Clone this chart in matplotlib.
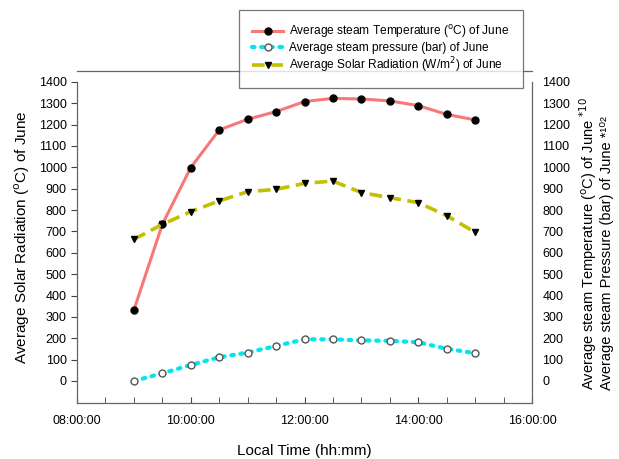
import matplotlib
matplotlib.use('Agg')

import matplotlib.pyplot as plt
import matplotlib.dates as mdates
import pandas as pd

plt.rcParams['font.family'] = ['Liberation Sans', 'DejaVu Sans']

# horas de medição (junho)
horas = ['09:00', '09:30', '10:00', '10:30', '11:00', '11:30', '12:00',
         '12:30', '13:00', '13:30', '14:00', '14:30', '15:00']
temperatura = [332, 733, 999, 1175, 1225, 1261, 1308, 1323, 1320, 1311, 1289, 1248, 1222]
pressao = [0, 36, 75, 111, 133, 164, 195, 195, 190, 188, 181, 151, 130]
radiacao = [663, 733, 793, 843, 886, 897, 925, 936, 882, 858, 835, 774, 696]

yticks = list(range(0, 1500, 100))

tempo = pd.to_datetime(['2000-06-01 ' + h for h in horas])
x_ini = pd.Timestamp('2000-06-01 08:00')
x_fim = pd.Timestamp('2000-06-01 16:00')

fig = plt.figure(figsize=(6.19, 4.59), dpi=100)
ax = fig.add_axes([77 / 619, 1 - 403 / 459, (532 - 77) / 619, (403 - 71) / 459])

l1, = ax.plot(tempo, temperatura, color='#f87878', lw=2.2, marker='o', ms=5,
              mfc='black', mec='black', zorder=3)
l2, = ax.plot(tempo, pressao, color='#00e5ee', lw=3, ls=(0, (0.6, 1.6)),
              dash_capstyle='round', marker='o', ms=5, mfc='white', mec='#555555',
              mew=1, zorder=3)
l3, = ax.plot(tempo, radiacao, color='#c2c000', lw=2.6, ls=(0, (3.5, 1.8)),
              marker='v', ms=5, mfc='black', mec='black', zorder=3)

ax.set_xlim(x_ini, x_fim)
ax.set_ylim(-103, 1451)
ax.set_yticks(yticks)
ax.xaxis.set_major_locator(mdates.HourLocator(byhour=[8, 10, 12, 14, 16]))
ax.xaxis.set_minor_locator(mdates.MinuteLocator(byminute=[0, 30]))
ax.xaxis.set_major_formatter(mdates.DateFormatter('%H:%M:%S'))
ax.tick_params(axis='x', which='both', direction='in', length=4, labelsize=9,
               color='#444444', pad=9)
ax.tick_params(axis='y', direction='out', length=4, labelsize=9, color='#444444')

for lado in ['left', 'right']:
    ax.spines[lado].set_bounds(-103, 1400)
for lado in ax.spines:
    ax.spines[lado].set_color('#666666')
    ax.spines[lado].set_linewidth(0.9)

ax2 = ax.twinx()
ax2.set_ylim(ax.get_ylim())
ax2.set_yticks(yticks)
ax2.tick_params(axis='y', length=0, labelsize=9, pad=7.5)
for lado in ax2.spines:
    ax2.spines[lado].set_visible(False)

ax.set_ylabel('Average Solar Radiation ($^{\\rm o}$C) of June', fontsize=11, labelpad=5)
ax.set_xlabel('Local Time (hh:mm)', fontsize=11, labelpad=12)
fig.text(599 / 619, 1 - 390 / 459, 'Average steam Temperature ($^{\\rm o}$C) of June $^{*10}$',
         rotation=90, fontsize=10.5, va='bottom', ha='right')
fig.text(614 / 619, 1 - 390 / 459, 'Average steam Pressure (bar) of June *¹⁰²',
         rotation=90, fontsize=10.5, va='bottom', ha='right')

leg = fig.legend([l1, l2, l3],
                 ['Average steam Temperature ($^{\\rm o}$C) of June',
                  'Average steam pressure (bar) of June',
                  'Average Solar Radiation (W/m$^2$) of June'],
                 loc='upper left', bbox_to_anchor=(239 / 619, 1 - 10 / 459),
                 fontsize=8.6, frameon=True, fancybox=False, edgecolor='#555555',
                 handlelength=2.6, labelspacing=0.15, borderpad=1.1,
                 handletextpad=0.5, borderaxespad=0)
leg.get_frame().set_linewidth(0.9)
leg.set_zorder(10)

fig.savefig('out.png', dpi=100, facecolor='white')
